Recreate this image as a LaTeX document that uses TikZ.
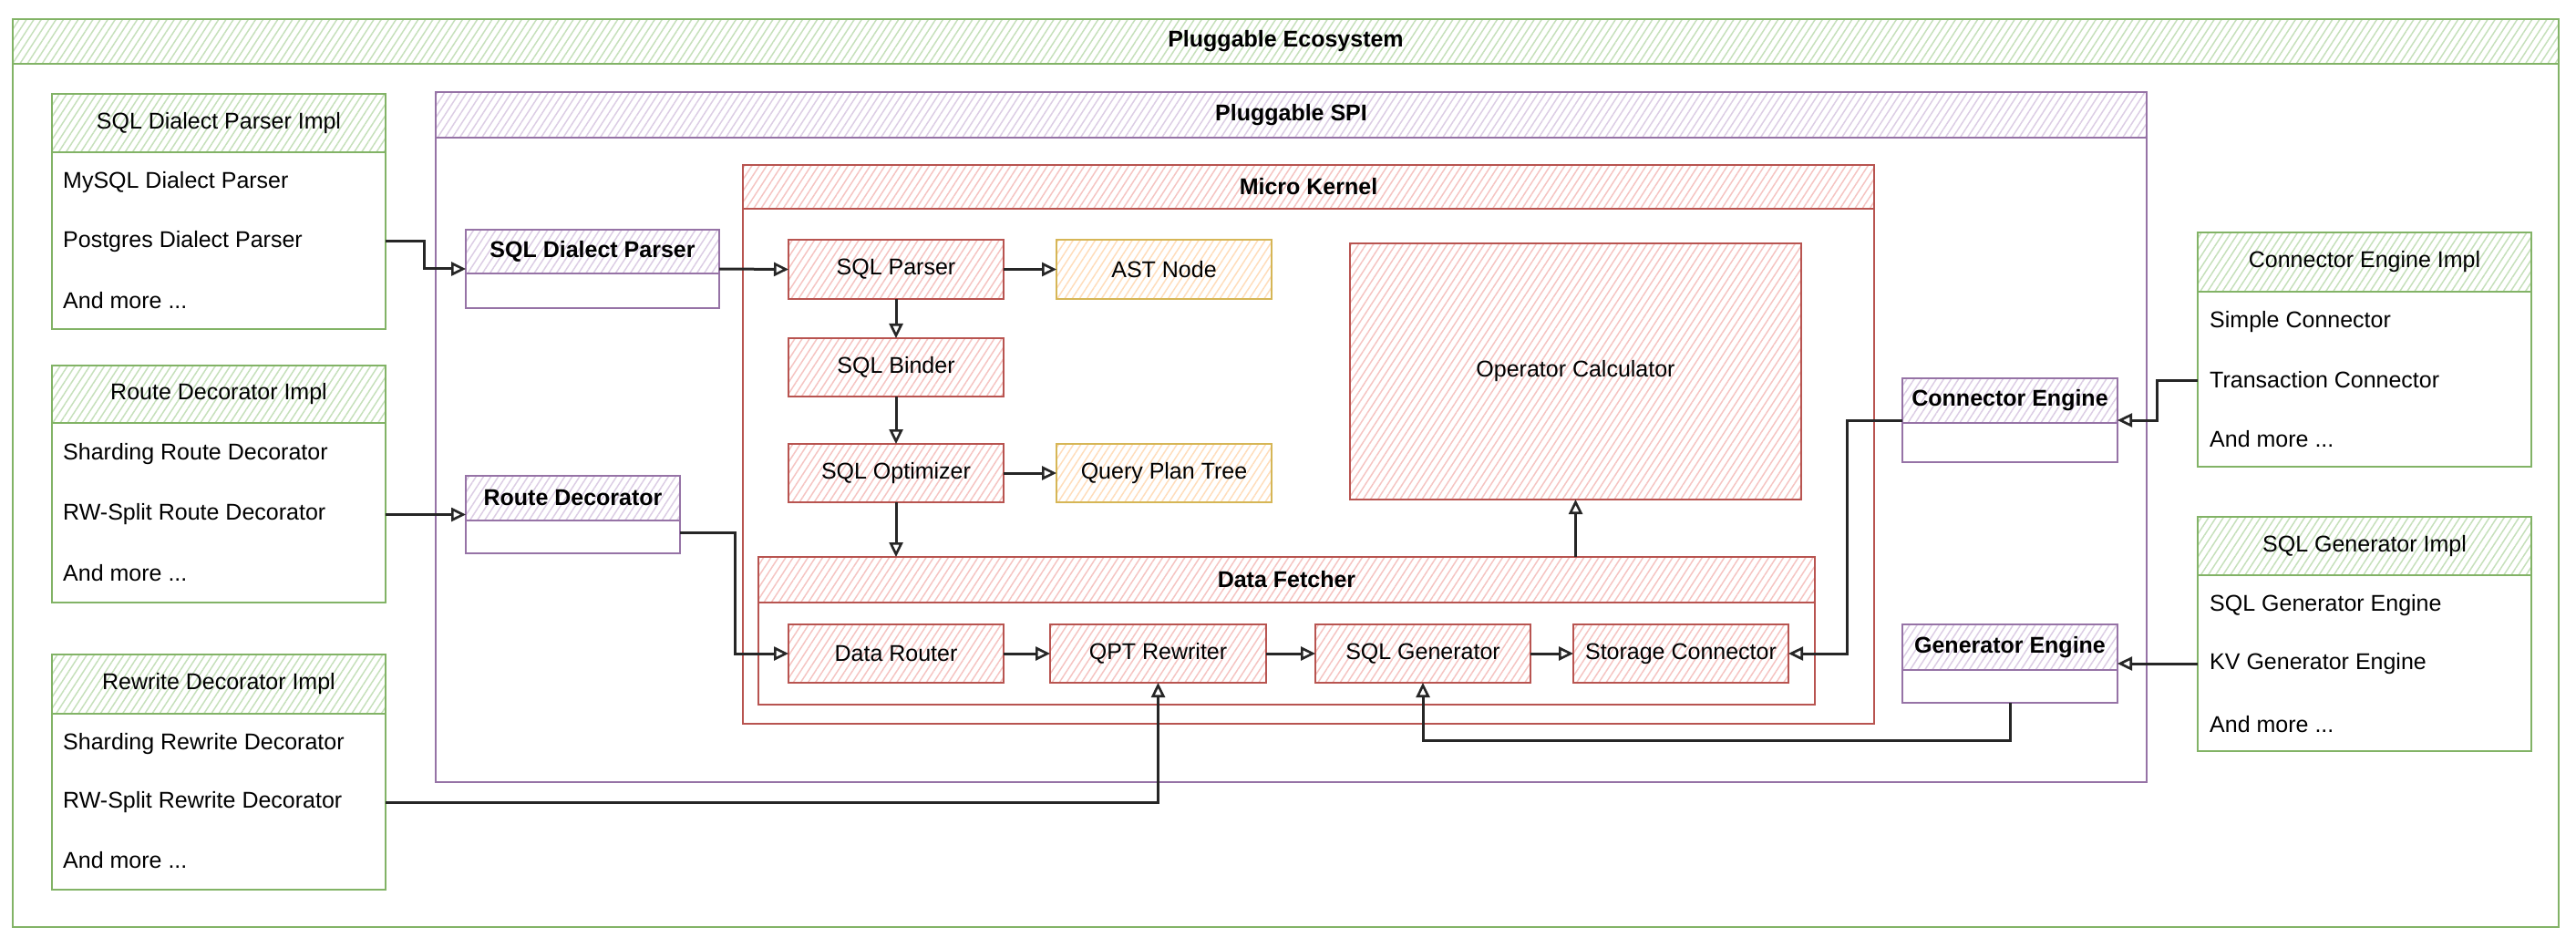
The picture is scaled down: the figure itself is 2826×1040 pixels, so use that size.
\documentclass[tikz,border=0pt]{standalone}
\usepackage{fontspec}
\setmainfont{Liberation Sans}
\usetikzlibrary{patterns.meta,arrows.meta}
\definecolor{gS}{HTML}{82B366}\definecolor{gF}{HTML}{C6E0BB}
\definecolor{pS}{HTML}{9673A6}\definecolor{pF}{HTML}{DCCDE4}
\definecolor{rS}{HTML}{B85450}\definecolor{rF}{HTML}{F5C4C2}
\definecolor{yS}{HTML}{D6B656}\definecolor{yF}{HTML}{FFDDBB}
\tikzset{
  fnt/.style={font=\fontsize{25}{30}\selectfont},
  base/.style={inner sep=0pt, outer sep=0pt, line width=2.5pt, fnt, align=center},
  hatch/.style={pattern={Lines[angle=57,distance=6.8pt,line width=1.5pt]}, pattern color=#1},
  gbody/.style={base, draw=gS},
  ghead/.style={base, draw=gS, hatch=gF},
  pbody/.style={base, draw=pS},
  phead/.style={base, draw=pS, hatch=pF},
  rbody/.style={base, draw=rS},
  rhead/.style={base, draw=rS, hatch=rF},
  rbox/.style={base, draw=rS, hatch=rF},
  ybox/.style={base, draw=yS, hatch=yF},
  item/.style={fnt, inner sep=0pt, anchor=west},
  arr/.style={line width=3pt, draw=black!85, -{Triangle[open, length=16pt, width=15pt, line width=2.6pt]}},
}
\newcommand\bx[7]{\node[#1, minimum width={#5-#3}, minimum height={#6-#4}] (#2) at ({(#3+#5)/2},{(#4+#6)/2}) {#7};}
\begin{document}
\begin{tikzpicture}[x=1pt,y=-1pt]
\useasboundingbox (0,0) rectangle (2826,1040);
% ecosystem
\bx{gbody}{eco}{14}{21}{2807}{1017}{}
\bx{ghead}{ecoh}{14}{21}{2807}{70}{\textbf{Pluggable Ecosystem}}
% SPI
\bx{pbody}{spi}{478}{101}{2355}{858}{}
\bx{phead}{spih}{478}{101}{2355}{151}{\textbf{Pluggable SPI}}
% micro kernel
\bx{rbody}{mk}{815}{181}{2056}{794}{}
\bx{rhead}{mkh}{815}{181}{2056}{229}{\textbf{Micro Kernel}}
% data fetcher
\bx{rbody}{df}{832}{611}{1991}{773}{}
\bx{rhead}{dfh}{832}{611}{1991}{661}{\textbf{Data Fetcher}}
% kernel boxes
\bx{rbox}{parser}{865}{263}{1101}{328}{SQL Parser}
\bx{rbox}{binder}{865}{371}{1101}{435}{SQL Binder}
\bx{rbox}{optim}{865}{487}{1101}{551}{SQL Optimizer}
\bx{ybox}{ast}{1159}{263}{1395}{328}{AST Node}
\bx{ybox}{qpt}{1159}{487}{1395}{551}{Query Plan Tree}
\bx{rbox}{opcalc}{1481}{267}{1976}{548}{Operator Calculator}
\bx{rbox}{router}{865}{685}{1101}{749}{Data Router}
\bx{rbox}{rewriter}{1152}{685}{1389}{749}{QPT Rewriter}
\bx{rbox}{sqlgen}{1443}{685}{1679}{749}{SQL Generator}
\bx{rbox}{storage}{1726}{685}{1962}{749}{Storage Connector}
% SPI boxes
\bx{pbody}{sdp}{511}{252}{789}{338}{}
\bx{phead}{sdph}{511}{252}{789}{300}{\textbf{SQL Dialect Parser}}
\bx{pbody}{rd}{511}{522}{746}{607}{}
\bx{phead}{rdh}{511}{522}{746}{571}{\textbf{Route Decorator}}
\bx{pbody}{ce}{2087}{415}{2323}{507}{}
\bx{phead}{ceh}{2087}{415}{2323}{464}{\textbf{Connector Engine}}
\bx{pbody}{ge}{2087}{685}{2323}{771}{}
\bx{phead}{geh}{2087}{685}{2323}{735}{\textbf{Generator Engine}}
% impl boxes left
\bx{gbody}{imp1}{57}{103}{423}{361}{}
\bx{ghead}{imp1h}{57}{103}{423}{167}{SQL Dialect Parser Impl}
\node[item] (i1a) at (69,200) {MySQL Dialect Parser};
\node[item] (i1b) at (69,265) {Postgres Dialect Parser};
\node[item] (i1c) at (69,330) {And more ...};
\bx{gbody}{imp2}{57}{401}{423}{661}{}
\bx{ghead}{imp2h}{57}{401}{423}{464}{Route Decorator Impl}
\node[item] (i2a) at (69,498) {Sharding Route Decorator};
\node[item] (i2b) at (69,564) {RW-Split Route Decorator};
\node[item] (i2c) at (69,629) {And more ...};
\bx{gbody}{imp3}{57}{718}{423}{976}{}
\bx{ghead}{imp3h}{57}{718}{423}{783}{Rewrite Decorator Impl}
\node[item] (i3a) at (69,816) {Sharding Rewrite Decorator};
\node[item] (i3b) at (69,880) {RW-Split Rewrite Decorator};
\node[item] (i3c) at (69,944) {And more ...};
% impl boxes right
\bx{gbody}{imp4}{2411}{255}{2777}{512}{}
\bx{ghead}{imp4h}{2411}{255}{2777}{320}{Connector Engine Impl}
\node[item] (i4a) at (2424,353) {Simple Connector};
\node[item] (i4b) at (2424,417) {Transaction Connector};
\node[item] (i4c) at (2424,482) {And more ...};
\bx{gbody}{imp5}{2411}{567}{2777}{824}{}
\bx{ghead}{imp5h}{2411}{567}{2777}{631}{SQL Generator Impl}
\node[item] (i5a) at (2424,664) {SQL Generator Engine};
\node[item] (i5b) at (2424,728) {KV Generator Engine};
\node[item] (i5c) at (2424,795) {And more ...};
% connectors
\draw[arr] (i1b.east -| imp1.east) -- ++(42,0) |- (sdp.west);
\draw[arr] (sdp.east) -- (parser.west);
\draw[arr] (parser.east) -- (ast.west);
\draw[arr] (parser.south) -- (binder.north);
\draw[arr] (binder.south) -- (optim.north);
\draw[arr] (optim.east) -- (qpt.west);
\draw[arr] (optim.south) -- (optim.south |- df.north);
\draw[arr] (rd.west -| imp2.east) -- (rd.west);
\draw[arr] ([yshift=-20pt]rd.east) -- ++(60,0) |- (router.west);
\draw[arr] (router.east) -- (rewriter.west);
\draw[arr] (rewriter.east) -- (sqlgen.west);
\draw[arr] (sqlgen.east) -- (storage.west);
\draw[arr] (i3b.east -| imp3.east) -| (rewriter.south);
\draw[arr] (opcalc.south |- df.north) -- (opcalc.south);
\draw[arr] (i4b.west -| imp4.west) -- ++(-45,0) |- (ce.east);
\draw[arr] (ce.west) -- ++(-61,0) |- (storage.east);
\draw[arr] (ge.east -| imp5.west) -- (ge.east);
\draw[arr] (ge.south) -- ++(0,41) -| (sqlgen.south);
\end{tikzpicture}
\end{document}
